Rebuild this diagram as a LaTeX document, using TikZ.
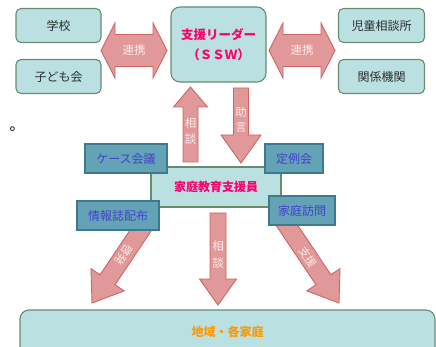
\documentclass[tikz,border=0pt]{standalone}
\usepackage{fontspec}
\setmainfont{Noto Sans CJK JP}
\usetikzlibrary{calc}
\definecolor{boxfill}{RGB}{186,224,226}
\definecolor{boxdraw}{RGB}{105,140,110}
\definecolor{tealfill}{RGB}{100,162,182}
\definecolor{tealdraw}{RGB}{62,122,142}
\definecolor{tealtext}{RGB}{66,66,205}
\definecolor{arrfill}{RGB}{224,152,152}
\definecolor{arrdraw}{RGB}{208,100,100}
\definecolor{arrtext}{RGB}{252,236,236}
\definecolor{magtext}{RGB}{255,0,110}
\definecolor{orgtext}{RGB}{255,153,0}
\definecolor{darktext}{RGB}{45,45,45}
\tikzset{
  lbox/.style={draw=boxdraw, fill=boxfill, line width=1.1pt, rounded corners=5pt,
    inner sep=0pt, text=darktext, font=\fontsize{12}{14}\selectfont},
  bigbox/.style={lbox, rounded corners=9pt},
  mainbox/.style={draw=boxdraw, fill=boxfill, line width=1.1pt, inner sep=0pt,
    text=magtext, font=\fontsize{12}{14}\selectfont\bfseries},
  tbox/.style={draw=tealdraw, fill=tealfill, line width=1.1pt, inner sep=0pt,
    text=tealtext, font=\fontsize{12}{14}\selectfont},
  arrshape/.style={draw=arrdraw, fill=arrfill, line width=0.9pt, line join=miter},
  atext/.style={text=arrtext, inner sep=0pt, align=center, font=\fontsize{11.5}{16}\selectfont},
}
% block arrow: start, tip, shaft half width, head half width, head length
\newcommand\blockarr[5]{%
  \coordinate (ba-n) at ($(#2)!#5!(#1)$);
  \draw[arrshape] ($(#1)!#3!90:(#2)$) -- ($(ba-n)!#3!90:(#2)$) -- ($(ba-n)!#4!90:(#2)$)
    -- (#2) -- ($(ba-n)!#4!-90:(#2)$) -- ($(ba-n)!#3!-90:(#2)$) -- ($(#1)!#3!-90:(#2)$) -- cycle;
}
% double block arrow: tip A, tip B, shaft half width, head half width, head length
\newcommand\dblarr[5]{%
  \coordinate (da-a) at ($(#1)!#5!(#2)$);
  \coordinate (da-b) at ($(#2)!#5!(#1)$);
  \draw[arrshape] (#1) -- ($(da-a)!#4!90:(#2)$) -- ($(da-a)!#3!90:(#2)$) -- ($(da-b)!#3!90:(#2)$)
    -- ($(da-b)!#4!90:(#2)$) -- (#2) -- ($(da-b)!#4!-90:(#2)$) -- ($(da-b)!#3!-90:(#2)$)
    -- ($(da-a)!#3!-90:(#2)$) -- ($(da-a)!#4!-90:(#2)$) -- cycle;
}
\begin{document}
\begin{tikzpicture}[x=1pt,y=-1pt]
\useasboundingbox (0,0) rectangle (436,347);
\clip (0,0) rectangle (436,347);

% arrow end points
\coordinate (rl-a) at (101,50.5);
\coordinate (rl-b) at (167,50.5);
\coordinate (rr-a) at (269,50.5);
\coordinate (rr-b) at (335,50.5);
\coordinate (up-s) at (190.5,162);
\coordinate (up-t) at (190.5,87);
\coordinate (dn-s) at (241,88);
\coordinate (dn-t) at (241,163);
\coordinate (cd-s) at (218,213);
\coordinate (cd-t) at (218,305);
\coordinate (ld-s) at (149,218);
\coordinate (ld-t) at (92,303);
\coordinate (rd-s) at (282,218);
\coordinate (rd-t) at (339,303);

% block arrows
\dblarr{rl-a}{rl-b}{16pt}{27.5pt}{14pt}
\dblarr{rr-a}{rr-b}{16pt}{27.5pt}{14pt}
\blockarr{up-s}{up-t}{7.5pt}{17pt}{20pt}
\blockarr{dn-s}{dn-t}{7.5pt}{20pt}{28pt}
\blockarr{cd-s}{cd-t}{8pt}{18.5pt}{26pt}
\blockarr{ld-s}{ld-t}{9pt}{20pt}{28pt}
\blockarr{rd-s}{rd-t}{9pt}{20pt}{28pt}

% arrow labels
\node[atext] (t-rl) at (134,50.5) {連携};
\node[atext] (t-rr) at (302,50.5) {連携};
\node[atext] (t-up) at (190.5,131) {相\\談};
\node[atext, font=\fontsize{11.5}{15}\selectfont] (t-dn) at (241,120) {助\\言};
\node[atext, font=\fontsize{11.5}{17}\selectfont] (t-cd) at (218,255) {相\\談};
\node[atext, rotate=236, font=\fontsize{11}{13}\selectfont] (t-ld) at (124,255) {啓発};
\node[atext, rotate=-56, font=\fontsize{11}{13}\selectfont] (t-rd) at (308,257) {支援};

% top boxes
\node[lbox, minimum width=85pt, minimum height=34pt] (school) at (58.5,25.5) {学校};
\node[lbox, minimum width=85pt, minimum height=34pt] (kodomo) at (58.5,76.5) {子ども会};
\node[lbox, minimum width=86pt, minimum height=34pt] (jido) at (381.5,25.5) {児童相談所};
\node[lbox, minimum width=86pt, minimum height=34pt] (kankei) at (381.5,76.5) {関係機関};
\node[bigbox, minimum width=95pt, minimum height=75pt, text=magtext,
  font=\fontsize{12.5}{20}\selectfont\bfseries, align=center] (ssw) at (218.5,44.5)
  {支援リーダー\\（ＳＳＷ）};

\node[inner sep=0pt, anchor=base west, font=\fontsize{15}{16}\selectfont] (maru) at (9.5,131) {。};

% central box
\node[mainbox, minimum width=130pt, minimum height=40pt] (kasei) at (216,187) {家庭教育支援員};

% teal boxes
\node[tbox, minimum width=82pt, minimum height=29pt] (case) at (126,158.5) {ケース会議};
\node[tbox, minimum width=82pt, minimum height=29pt] (joho) at (118,215.5) {情報誌配布};
\node[tbox, minimum width=58pt, minimum height=29pt] (teirei) at (294,158.5) {定例会};
\node[tbox, minimum width=66pt, minimum height=29pt] (homon) at (302,210.5) {家庭訪問};

% bottom box
\node[bigbox, minimum width=415pt, minimum height=52pt] (chiiki) at (227.5,336) {};
\node[inner sep=0pt, text=orgtext, font=\fontsize{12}{14}\selectfont\bfseries] (chiiki-t) at (227.5,332) {地域・各家庭};
\end{tikzpicture}
\end{document}
